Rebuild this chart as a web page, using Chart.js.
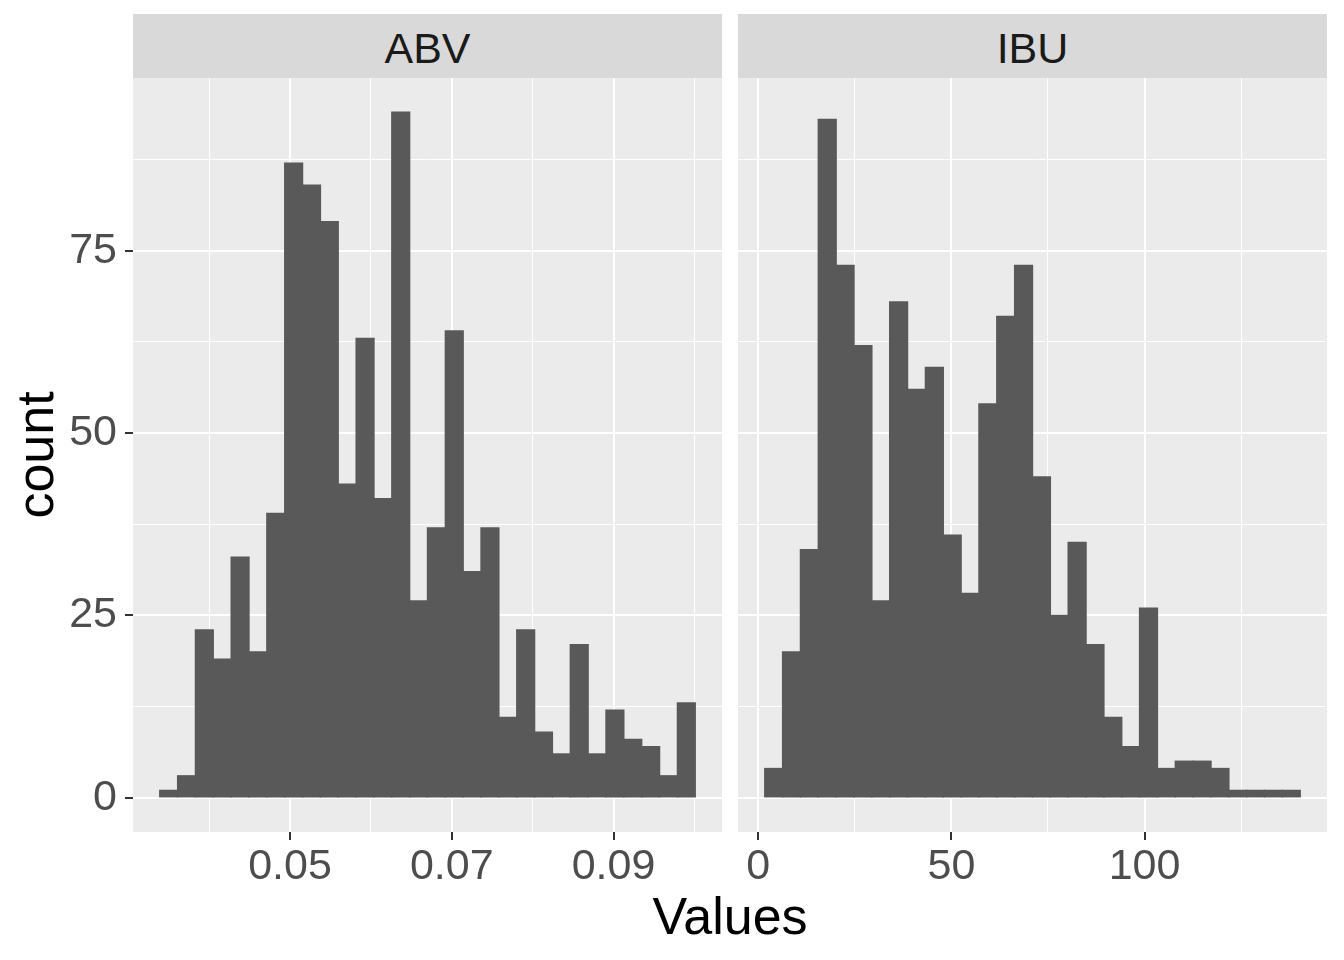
<!DOCTYPE html>
<html>
<head>
<meta charset="utf-8">
<script src="https://cdn.jsdelivr.net/npm/chart.js@4.4.1/dist/chart.umd.min.js"></script>
<style>
  html, body { margin: 0; padding: 0; background: #fff; }
  body { width: 1344px; height: 960px; position: relative; overflow: hidden;
         font-family: "Liberation Sans", Arial, sans-serif; }
  .panel { position: absolute; top: 0; height: 892px; }
  .strip { position: absolute; top: 14px; height: 64px; background: #D9D9D9;
           color: #1A1A1A; font-size: 43px; line-height: 68px; text-align: center; }
  .title { position: absolute; color: #000; font-size: 52px; line-height: 60px;
           text-align: center; white-space: nowrap; }
</style>
</head>
<body>
<div class="panel" style="left:0;width:722px"><canvas id="chart-abv"></canvas></div>
<div class="panel" style="left:738px;width:589px"><canvas id="chart-ibu"></canvas></div>
<div class="strip" style="left:133px;width:589px">ABV</div>
<div class="strip" style="left:738px;width:589px">IBU</div>
<div class="title" style="left:530px;top:886px;width:400px">Values</div>
<div class="title" style="left:-65px;top:425px;width:200px;height:60px;transform:rotate(-90deg)">count</div>

<script>
/* ── data: 30-bin histograms, bin centres + counts ── */
const ABV_BINS = [0.03500, 0.03721, 0.03941, 0.04162, 0.04383, 0.04603, 0.04824, 0.05045, 0.05266, 0.05486,
                  0.05707, 0.05928, 0.06148, 0.06369, 0.06590, 0.06810, 0.07031, 0.07252, 0.07472, 0.07693,
                  0.07914, 0.08134, 0.08355, 0.08576, 0.08797, 0.09017, 0.09238, 0.09459, 0.09679, 0.09900];
const ABV_COUNTS = [1, 3, 23, 19, 33, 20, 39, 87, 84, 79,
                    43, 63, 41, 94, 27, 37, 64, 31, 37, 11,
                    23, 9, 6, 21, 6, 12, 8, 7, 3, 13];

const IBU_BINS = [4, 8.62, 13.24, 17.86, 22.48, 27.10, 31.72, 36.34, 40.97, 45.59,
                  50.21, 54.83, 59.45, 64.07, 68.69, 73.31, 77.93, 82.55, 87.17, 91.79,
                  96.41, 101.03, 105.66, 110.28, 114.90, 119.52, 124.14, 128.76, 133.38, 138];
const IBU_COUNTS = [4, 20, 34, 93, 73, 62, 27, 68, 56, 59,
                    36, 28, 54, 66, 73, 44, 25, 35, 21, 11,
                    7, 26, 4, 5, 5, 4, 1, 1, 1, 1];

// axis limits (ggplot 5% expansion) and breaks; '' = minor break
const ABV_RANGE = [0.03059, 0.10341];
const ABV_TICKS = [0.04, 0.05, 0.06, 0.07, 0.08, 0.09, 0.10];
const ABV_TICK_LABELS = ['', '0.05', '', '0.07', '', '0.09', ''];

const IBU_RANGE = [-5.24, 147.24];
const IBU_TICKS = [0, 25, 50, 75, 100, 125];
const IBU_TICK_LABELS = ['0', '', '50', '', '100', ''];

const Y_RANGE = [-4.7, 98.7];
const Y_TICKS = [0, 12.5, 25, 37.5, 50, 62.5, 75, 87.5];
const Y_TICK_LABELS = ['0', '', '25', '', '50', '', '75', ''];

/* ── shared styling ── */
const FONT = '"Liberation Sans", Arial, sans-serif';
const BAR_FILL = '#595959';

const panelBg = {
  id: 'panelBg',
  beforeDraw(chart) {
    const { ctx, chartArea: a } = chart;
    ctx.save();
    ctx.fillStyle = '#EBEBEB';
    ctx.fillRect(a.left, a.top, a.right - a.left, a.bottom - a.top);
    ctx.restore();
  }
};

function gridFor(labels, showTicks) {
  return {
    offset: false,
    color: '#FFFFFF',
    lineWidth: c => (labels[c.index] ? 2 : 1),
    drawTicks: showTicks,
    tickLength: 8,
    tickColor: c => (labels[c.index] ? '#333333' : 'rgba(0,0,0,0)'),
    tickWidth: 2,
  };
}

function buildPanel(id, bins, counts, xRange, xTicks, xLabels, showY) {
  const ctx = document.getElementById(id);
  return new Chart(ctx, {
    type: 'bar',
    data: {
      datasets: [{
        data: bins.map((x, i) => ({ x: x, y: counts[i] })),
        backgroundColor: BAR_FILL,
        borderWidth: 0,
        inflateAmount: 0.7,   // hide hairline seams between adjacent bins
        barPercentage: 1,
        categoryPercentage: 1,
      }]
    },
    options: {
      responsive: true, maintainAspectRatio: false,
      animation: false, events: [],
      layout: { padding: { top: 78, left: 0, right: 0, bottom: 0 } },
      plugins: { legend: { display: false }, tooltip: { enabled: false } },
      scales: {
        x: {
          type: 'linear', min: xRange[0], max: xRange[1], offset: false,
          afterBuildTicks: s => { s.ticks = xTicks.map(v => ({ value: v })); },
          afterFit: s => { s.height = 60; },
          grid: gridFor(xLabels, true),
          border: { display: false },
          ticks: {
            autoSkip: false, maxRotation: 0, minRotation: 0, padding: 1,
            color: '#4D4D4D', font: { family: FONT, size: 43 },
            callback: (v, i) => xLabels[i],
          }
        },
        y: {
          min: Y_RANGE[0], max: Y_RANGE[1],
          afterBuildTicks: s => { s.ticks = Y_TICKS.map(v => ({ value: v })); },
          afterFit: s => { s.width = showY ? 133 : 0; },
          grid: gridFor(Y_TICK_LABELS, showY),
          border: { display: false },
          ticks: {
            display: showY, autoSkip: false, padding: 8,
            color: '#4D4D4D', font: { family: FONT, size: 43 },
            callback: (v, i) => Y_TICK_LABELS[i],
          }
        }
      }
    },
    plugins: [panelBg]
  });
}

buildPanel('chart-abv', ABV_BINS, ABV_COUNTS, ABV_RANGE, ABV_TICKS, ABV_TICK_LABELS, true);
buildPanel('chart-ibu', IBU_BINS, IBU_COUNTS, IBU_RANGE, IBU_TICKS, IBU_TICK_LABELS, false);
</script>
</body>
</html>
